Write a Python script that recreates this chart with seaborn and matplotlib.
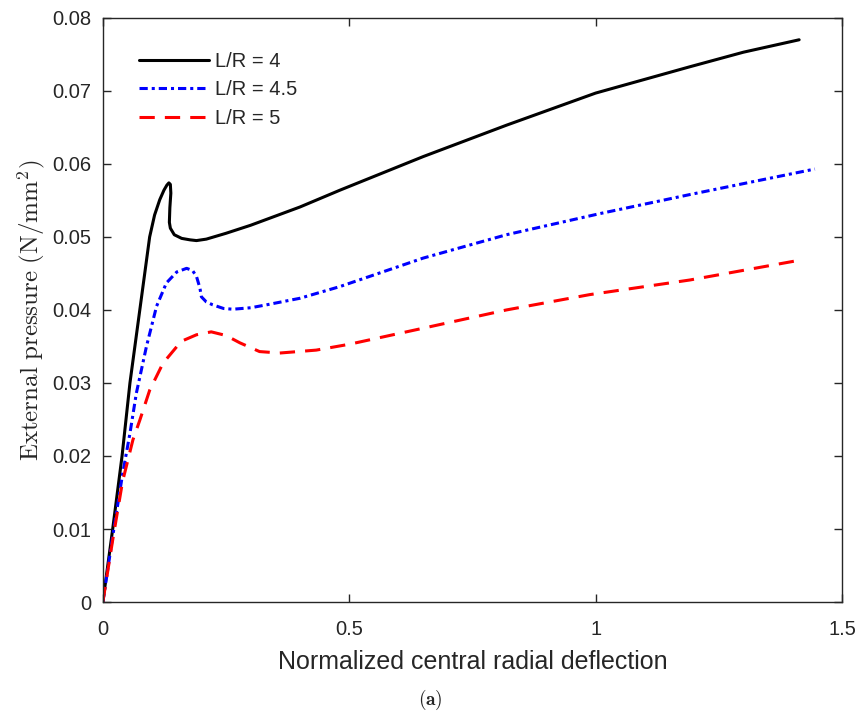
import matplotlib
matplotlib.use("Agg")
import matplotlib.pyplot as plt
import seaborn as sns
import pandas as pd

# ---- data ----
x_lr4 = [0, 0.02, 0.039, 0.055, 0.075, 0.095, 0.105, 0.1155, 0.124, 0.13, 0.134, 0.137,
         0.138, 0.136, 0.135, 0.137, 0.145, 0.16, 0.177, 0.19, 0.21, 0.25, 0.30, 0.40,
         0.481, 0.65, 0.819, 1.0, 1.191, 1.30, 1.413]
y_lr4 = [0, 0.010, 0.020, 0.030, 0.040, 0.0500, 0.0530, 0.0551, 0.0564, 0.0571, 0.0574,
         0.0572, 0.0560, 0.0540, 0.0520, 0.0512, 0.0503, 0.0498, 0.0496, 0.0495, 0.0497,
         0.0505, 0.0516, 0.0541, 0.0564, 0.0610, 0.0653, 0.0697, 0.0733, 0.0753, 0.0770]

x_lr45 = [0, 0.02, 0.04, 0.055, 0.068, 0.0885, 0.109, 0.129, 0.15, 0.17, 0.182, 0.19,
          0.197, 0.20, 0.21, 0.223, 0.245, 0.264, 0.30, 0.332, 0.40, 0.481, 0.65,
          0.819, 1.009, 1.191, 1.445]
y_lr45 = [0, 0.009, 0.0175, 0.0231, 0.0286, 0.0350, 0.0405, 0.0437, 0.0452, 0.0457,
          0.0454, 0.0446, 0.0430, 0.0418, 0.0411, 0.0407, 0.0402, 0.0401, 0.0403,
          0.0407, 0.0416, 0.0432, 0.0471, 0.0503, 0.0532, 0.0558, 0.0593]

x_lr5 = [0, 0.02, 0.04, 0.061, 0.075, 0.095, 0.122, 0.159, 0.19, 0.22, 0.25, 0.278,
         0.318, 0.359, 0.433, 0.5, 0.65, 0.819, 0.988, 1.191, 1.413]
y_lr5 = [0, 0.0085, 0.0165, 0.0222, 0.0249, 0.0290, 0.0327, 0.0357, 0.0366, 0.0370,
         0.0365, 0.0355, 0.0343, 0.0341, 0.0345, 0.0353, 0.0375, 0.0400, 0.0421,
         0.0441, 0.0468]

labels = ["L/R = 4", "L/R = 4.5", "L/R = 5"]
colors = ["#000000", "#0000ff", "#ff0000"]
x_ticks = [0, 0.5, 1, 1.5]
x_ticklabels = ["0", "0.5", "1", "1.5"]
y_ticks = [0, 0.01, 0.02, 0.03, 0.04, 0.05, 0.06, 0.07, 0.08]
y_ticklabels = ["0", "0.01", "0.02", "0.03", "0.04", "0.05", "0.06", "0.07", "0.08"]

sns.set_theme(style="white")
plt.rcParams["font.family"] = ["Liberation Sans", "DejaVu Sans"]
plt.rcParams["mathtext.fontset"] = "cm"

fig = plt.figure(figsize=(8.57, 7.15), dpi=100)
ax = fig.add_axes([0.120, 0.158, 0.8625, 0.817])

series = [(x_lr4, y_lr4), (x_lr45, y_lr45), (x_lr5, y_lr5)]
dash_styles = [None, (2.7, 1.3, 1.0, 1.3), (5.0, 3.3)]
for (xs, ys), lab, col, ds in zip(series, labels, colors, dash_styles):
    df = pd.DataFrame({"x": xs, "y": ys})
    sns.lineplot(data=df, x="x", y="y", ax=ax, color=col, linewidth=2.2,
                 sort=False, estimator=None, label=lab)
    if ds is not None:
        ax.lines[-1].set_dashes(ds)

ax.set_xlim(0, 1.5)
ax.set_ylim(0, 0.08)
ax.set_xticks(x_ticks)
ax.set_xticklabels(x_ticklabels)
ax.set_yticks(y_ticks)
ax.set_yticklabels(y_ticklabels)
ax.tick_params(axis="both", which="both", direction="in", length=6, width=1,
               top=True, right=True, bottom=True, left=True,
               labelsize=14.5, colors="#262626", labelcolor="#262626", pad=8)
ax.tick_params(axis="x", pad=13)
for sp in ax.spines.values():
    sp.set_visible(True)
    sp.set_color("#262626")
    sp.set_linewidth(1.0)

ax.set_xlabel("Normalized central radial deflection", fontsize=18,
              color="#262626", labelpad=8)
ax.set_ylabel(r"$\mathrm{External\ pressure\ (N/mm^2)}$", fontsize=18,
              color="#262626", labelpad=4)

ax.legend(loc="upper left", frameon=False, fontsize=14.5,
          bbox_to_anchor=(0.024, 0.9726), handlelength=3.5,
          handletextpad=0.3, labelspacing=0.47)

fig.text(0.502, 0.021, r"$\mathbf{(a)}$", ha="center", va="center",
         fontsize=14, color="#262626")

fig.savefig("out.png", dpi=100)
